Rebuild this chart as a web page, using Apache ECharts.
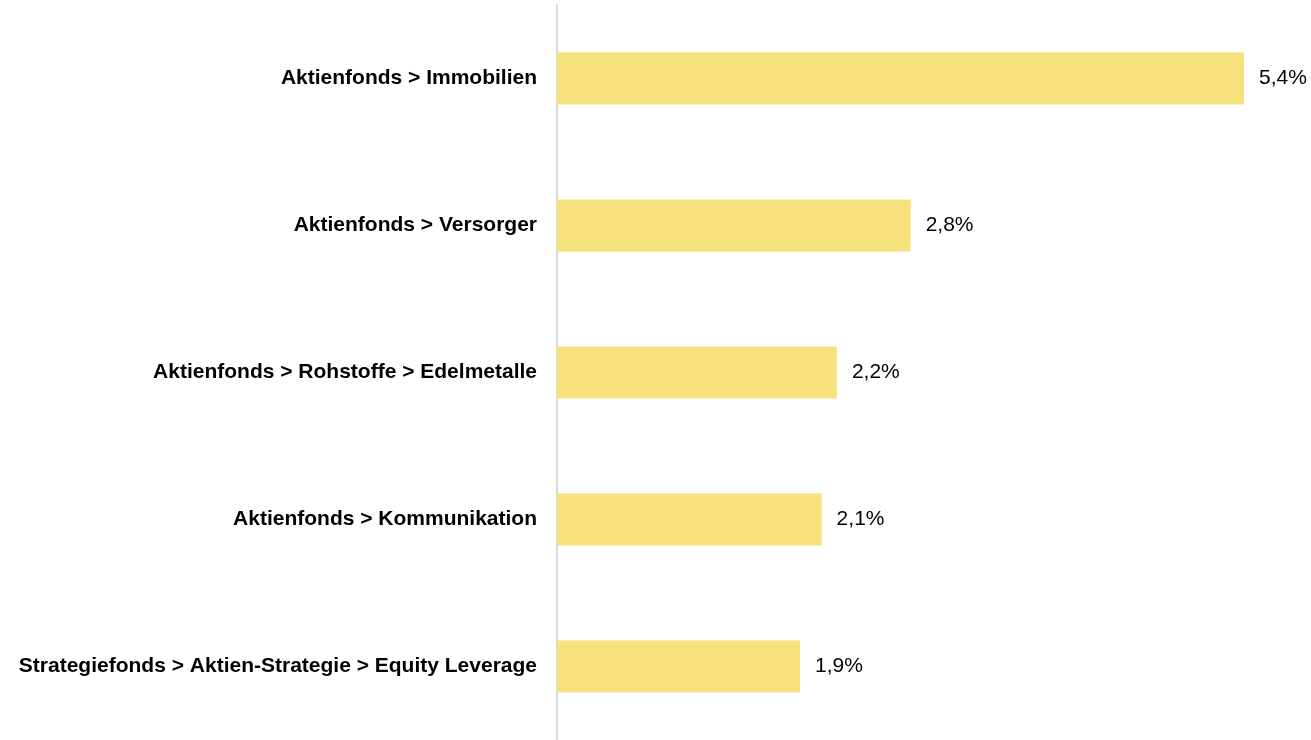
<!DOCTYPE html>
<html>
<head>
<meta charset="utf-8">
<script src="https://cdn.jsdelivr.net/npm/echarts@6/dist/echarts.min.js"></script>
<style>
  html, body { margin: 0; padding: 0; background: #fff; }
  #chart { width: 1311px; height: 740px; }
</style>
</head>
<body>
<div id="chart"></div>
<script>
const categories = [
  'Aktienfonds > Immobilien',
  'Aktienfonds > Versorger',
  'Aktienfonds > Rohstoffe > Edelmetalle',
  'Aktienfonds > Kommunikation',
  'Strategiefonds > Aktien-Strategie > Equity Leverage',
];
const values = [5.4, 2.78, 2.2, 2.08, 1.91];

const font = '"Liberation Sans", Arial, Helvetica, sans-serif';
const chart = echarts.init(document.getElementById('chart'), null, { renderer: 'canvas' });

chart.setOption({
  backgroundColor: '#fff',
  animation: false,
  grid: { left: 557, right: 67, top: 5, bottom: 0, containLabel: false },
  xAxis: {
    type: 'value',
    min: 0,
    max: 5.4,
    show: false,
  },
  yAxis: {
    type: 'category',
    inverse: true,
    data: categories,
    axisLine: { show: true, lineStyle: { color: '#d9d9d9', width: 2 } },
    axisTick: { show: false },
    axisLabel: {
      margin: 20,
      color: '#000',
      fontFamily: font,
      fontWeight: 'bold',
      fontSize: 21,
      padding: [5, 0, 0, 0],
    },
  },
  series: [{
    type: 'bar',
    data: values,
    barWidth: 52,
    itemStyle: { color: '#f7e17c' },
    label: {
      show: true,
      position: 'right',
      distance: 15,
      color: '#000',
      fontFamily: font,
      fontSize: 21,
      padding: [5, 0, 0, 0],
      formatter: (p) => p.value.toFixed(1).replace('.', ',') + '%',
    },
  }],
});
</script>
</body>
</html>
